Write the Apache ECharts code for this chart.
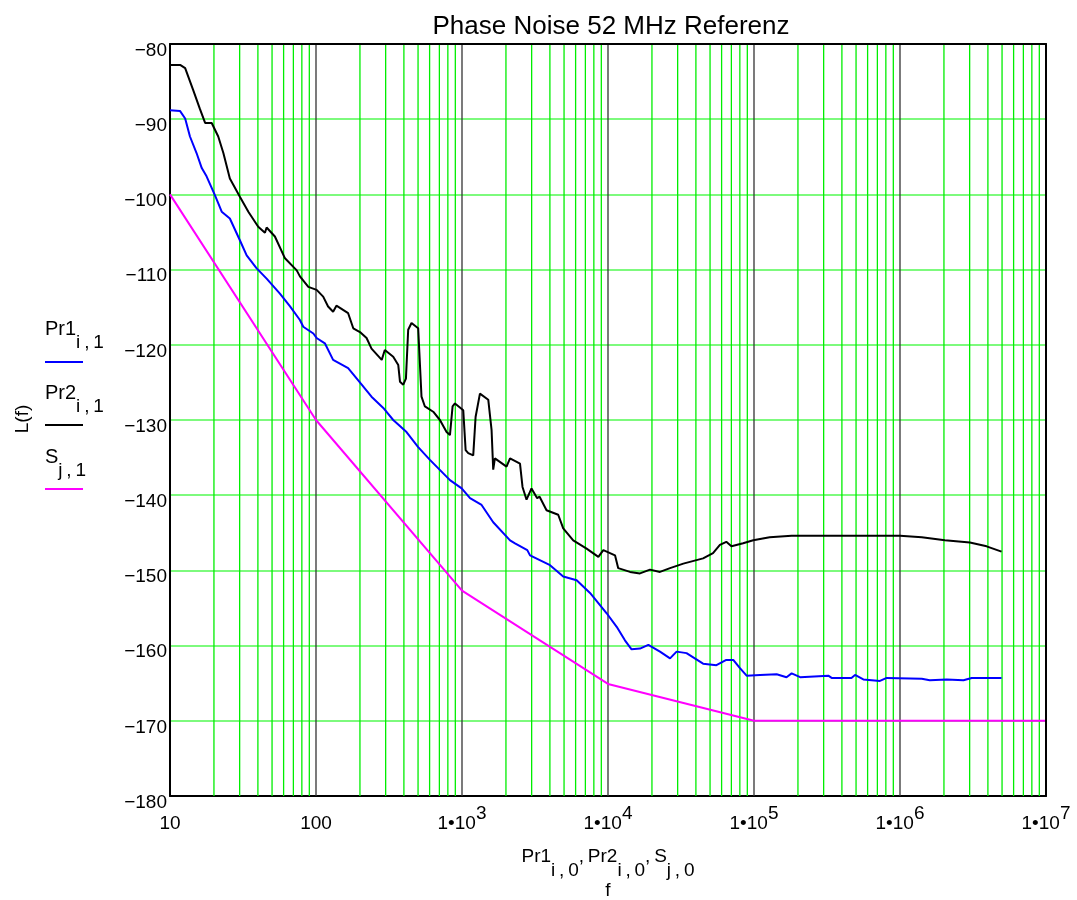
<!DOCTYPE html>
<html>
<head>
<meta charset="utf-8">
<script src="https://cdn.jsdelivr.net/npm/echarts@6/dist/echarts.min.js"></script>
<style>
  html, body { margin: 0; padding: 0; background: #fff; }
  #chart { width: 1077px; height: 900px; }
</style>
</head>
<body>
<div id="chart"></div>
<script>
// Phase noise L(f) in dBc/Hz over offset frequency f in Hz
const pr1Freq = [10, 11.7, 12.7, 13.7, 15.2, 16.5, 17.8, 20.3, 22.6, 25.7, 30.1, 33.5, 39.1, 45.9, 56.6, 66.4,
  77.6, 81.8, 95.9, 101, 115, 131, 166, 194, 240, 289, 338, 417, 501, 603, 827, 995, 1135, 1362, 1636, 2133,
  2307, 2800, 2924, 4009, 4935, 6100, 7530, 9790, 11470, 13060, 14500, 16560, 18900, 22700, 26600, 29500,
  34500, 44800, 55300, 64600, 72100, 80100, 89000, 110000, 143000, 167000, 181000, 207000, 323000, 340000,
  465000, 492000, 561000, 729000, 811000, 1410000, 1600000, 2090000, 2720000, 3100000, 4960000];
const pr1Level = [-88.8, -88.9, -89.9, -92.3, -94.5, -96.5, -97.6, -100.1, -102.3, -103.2, -106.1, -108.1, -109.8, -111.2, -113.2, -114.9,
  -116.7, -117.6, -118.5, -119.1, -119.8, -122.0, -123.1, -124.7, -126.9, -128.4, -130.0, -131.6, -133.6, -135.3, -138.0, -139.1, -140.4, -141.3, -143.6, -146.0,
  -146.4, -147.3, -148.0, -149.3, -150.8, -151.3, -153.0, -155.7, -157.5, -159.3, -160.5, -160.4, -159.9, -160.8, -161.7, -160.8,
  -161.0, -162.4, -162.6, -161.9, -161.9, -163.0, -164.0, -163.9, -163.8, -164.2, -163.7, -164.2, -164.0, -164.3,
  -164.3, -163.9, -164.5, -164.7, -164.3, -164.4, -164.6, -164.5, -164.6, -164.3, -164.3];

const pr2Freq = [10, 11.8, 12.7, 14.4, 16.0, 17.4, 19.3, 21.4, 23.2, 25.7, 30.1, 34.4, 40.2, 44.7, 45.9, 52.3, 61.3, 73.8,
  77.6, 88.6, 101, 112, 121, 131, 138, 166, 180, 200, 222, 240, 282, 296, 338, 366, 376, 396, 413, 428, 451, 501,
  528, 557, 635, 706, 784, 827, 862, 895, 1020, 1059, 1103, 1194, 1239, 1327, 1513, 1594, 1636, 1680, 2018, 2133,
  2496, 2597, 2767, 2993, 3273, 3400, 3793, 4560, 4935, 5777, 7135, 8590, 9290, 11170, 11750, 14150, 16560, 19400,
  22700, 26600, 32800, 44800, 52400, 58400, 64600, 70100, 84200, 98800, 128000, 181000, 1000000, 1410000, 2030000,
  3010000, 3920000, 4960000];
const pr2Level = [-82.8, -82.8, -83.2, -86.1, -88.6, -90.5, -90.5, -92.3, -94.5, -97.9, -100.3, -102.3, -104.3, -105.1, -104.4, -105.6, -108.5, -110.1,
  -110.9, -112.3, -112.7, -113.6, -114.9, -115.6, -114.8, -115.8, -117.8, -118.3, -119.1, -120.5, -122.0, -120.7, -121.6, -122.7, -124.9, -125.3, -124.5, -118.0, -117.1, -117.8,
  -126.9, -128.2, -128.9, -130.0, -131.6, -132.0, -128.2, -127.8, -128.7, -134.0, -134.4, -134.7, -129.6, -126.5, -127.3, -131.3, -136.6, -135.1, -136.2, -135.1,
  -135.8, -138.9, -140.6, -139.1, -140.4, -140.2, -142.0, -142.6, -144.4, -146.0, -147.1, -148.2, -147.3, -148.0, -149.7, -150.2, -150.4, -149.9,
  -150.2, -149.7, -149.1, -148.4, -147.7, -146.6, -146.2, -146.8, -146.4, -146.0, -145.6, -145.4, -145.4, -145.6, -146.0,
  -146.3, -146.8, -147.5];

// Specification mask S
const sFreq = [10, 100, 1000, 10000, 100000, 10000000];
const sLevel = [-100, -130, -152.7, -165.1, -170, -170];

// Axis ranges
const xMin = 10, xMax = 1e7;
const yMin = -180, yMax = -80, yStep = 10;

const FONT = 'Liberation Sans, Arial, sans-serif';

// Vertical grid: decades (dark) and 2..9 multiples (green)
const decadeFreqs = [];
const minorFreqs = [];
for (let d = xMin; d < xMax; d *= 10) {
  if (d > xMin) decadeFreqs.push(d);
  for (let k = 2; k <= 9; k++) minorFreqs.push(k * d);
}
// each grid line as its own segment, separated by a gap point
const vSegments = fs => fs.flatMap(f => [[f, yMin], [f, yMax], [f, '-']]);

const pairs = (fs, ls) => fs.map((f, i) => [f, ls[i]]);

// Text with subscripts, laid out piece by piece
const measureCtx = document.createElement('canvas').getContext('2d');
function textWidth(t, size) {
  measureCtx.font = size + 'px ' + FONT;
  return measureCtx.measureText(t).width;
}
function subscriptText(parts, x, y, opt) {
  const widths = parts.map(p => textWidth(p[0], p[1] ? opt.subSize : opt.size));
  const total = widths.reduce((a, b) => a + b, 0);
  let cx = opt.align === 'center' ? x - total / 2 : x;
  return parts.map((p, i) => {
    const el = {
      type: 'text', x: cx, y: p[1] ? y + opt.dy : y,
      style: {
        text: p[0], font: (p[1] ? opt.subSize : opt.size) + 'px ' + FONT,
        fill: '#000', align: 'left', verticalAlign: 'middle'
      }
    };
    cx += widths[i];
    return el;
  });
}
const TS = '\u2009';
const legendOpt = { size: 20, subSize: 19, dy: 13.5, align: 'left' };
const axisNameOpt = { size: 19, subSize: 19, dy: 14, align: 'center' };

const chart = echarts.init(document.getElementById('chart'), null, { renderer: 'canvas' });

chart.setOption({
  animation: false,
  backgroundColor: '#fff',
  title: {
    text: 'Phase Noise 52 MHz Referenz',
    left: 606, top: 9, textAlign: 'center',
    textStyle: { fontSize: 26, fontWeight: 'normal', fontFamily: FONT, color: '#000' }
  },
  grid: { left: 170, right: 31, top: 44, bottom: 104, containLabel: false },
  xAxis: [
    {
      type: 'log', logBase: 10, min: xMin, max: xMax, splitNumber: 6,
      axisLine: { show: true, lineStyle: { color: '#000', width: 2 } },
      axisTick: { show: false },
      splitLine: { show: false },
      axisLabel: {
        margin: 8, showMinLabel: true, showMaxLabel: true,
        formatter: v => {
          const l = Math.log10(v);
          const e = Math.round(l);
          if (Math.abs(l - e) > 1e-6) return '';
          return e < 3 ? '{b|' + Math.round(v) + '}' : '{b|1\u202210}{s|' + e + '}';
        },
        rich: {
          b: { fontSize: 19, fontFamily: FONT, color: '#000', lineHeight: 40, verticalAlign: 'middle' },
          s: { fontSize: 19, fontFamily: FONT, color: '#000', lineHeight: 20, verticalAlign: 'top' }
        }
      }
    },
    {
      type: 'log', logBase: 10, min: xMin, max: xMax, position: 'top', z: 10,
      axisLine: { show: true, lineStyle: { color: '#000', width: 2 } },
      axisTick: { show: false }, axisLabel: { show: false }, splitLine: { show: false }
    }
  ],
  yAxis: [
    {
      type: 'value', min: yMin, max: yMax, interval: yStep,
      axisLine: { show: true, lineStyle: { color: '#000', width: 2 } },
      axisTick: { show: false },
      splitLine: { show: true, lineStyle: { color: '#7dfa7d', width: 2 } },
      axisLabel: {
        margin: 3, verticalAlign: 'middle', padding: [10, 0, 0, 0],
        formatter: v => '{m|\u2212}{d|' + Math.abs(v) + '}',
        rich: {
          m: { fontSize: 19, fontFamily: FONT, color: '#000', lineHeight: 1, verticalAlign: 'top' },
          d: { fontSize: 19, fontFamily: FONT, color: '#000', lineHeight: 16, verticalAlign: 'top' }
        }
      }
    },
    {
      type: 'value', min: yMin, max: yMax, interval: yStep, position: 'right', z: 10,
      axisLine: { show: true, lineStyle: { color: '#000', width: 2 } },
      axisTick: { show: false }, axisLabel: { show: false }, splitLine: { show: false }
    }
  ],
  series: [
    {
      name: 'minor grid', type: 'line', data: vSegments(minorFreqs), z: 1, silent: true,
      symbol: 'none', connectNulls: false,
      lineStyle: { color: '#00ee00', width: 1.3 }
    },
    {
      name: 'decade grid', type: 'line', data: vSegments(decadeFreqs), z: 1, silent: true,
      symbol: 'none', connectNulls: false,
      lineStyle: { color: '#333333', width: 1.3 }
    },
    {
      name: 'S', type: 'line', data: pairs(sFreq, sLevel), z: 3,
      showSymbol: false, symbol: 'none',
      lineStyle: { color: '#ff00ff', width: 2 }
    },
    {
      name: 'Pr1', type: 'line', data: pairs(pr1Freq, pr1Level), z: 4,
      showSymbol: false, symbol: 'none',
      lineStyle: { color: '#0000ff', width: 2 }
    },
    {
      name: 'Pr2', type: 'line', data: pairs(pr2Freq, pr2Level), z: 5,
      showSymbol: false, symbol: 'none',
      lineStyle: { color: '#000000', width: 2 }
    }
  ],
  graphic: [
    // y-axis name
    { type: 'text', x: 23, y: 419, rotation: Math.PI / 2,
      style: { text: 'L(f)', font: '19px ' + FONT, fill: '#000', align: 'center', verticalAlign: 'middle' } },
    // legend: labels with subscripts above short line samples
    ...subscriptText([['Pr1', false], ['i' + TS + ',' + TS + '1', true]], 45, 329.5, legendOpt),
    { type: 'line', shape: { x1: 45, y1: 362, x2: 83, y2: 362 }, style: { stroke: '#0000ff', lineWidth: 2 } },
    ...subscriptText([['Pr2', false], ['i' + TS + ',' + TS + '1', true]], 45, 393, legendOpt),
    { type: 'line', shape: { x1: 45, y1: 425, x2: 83, y2: 425 }, style: { stroke: '#000000', lineWidth: 2 } },
    ...subscriptText([['S', false], ['j' + TS + ',' + TS + '1', true]], 45, 457.5, legendOpt),
    { type: 'line', shape: { x1: 45, y1: 489, x2: 83, y2: 489 }, style: { stroke: '#ff00ff', lineWidth: 2 } },
    // x-axis name
    ...subscriptText([
      ['Pr1', false], ['i' + TS + ',' + TS + '0', true], [',' + TS + 'Pr2', false],
      ['i' + TS + ',' + TS + '0', true], [',' + TS + 'S', false], ['j' + TS + ',' + TS + '0', true]
    ], 608, 856.5, axisNameOpt),
    { type: 'text', x: 608, y: 891,
      style: { text: 'f', font: '19px ' + FONT, fill: '#000', align: 'center', verticalAlign: 'middle' } }
  ]
});
</script>
</body>
</html>
